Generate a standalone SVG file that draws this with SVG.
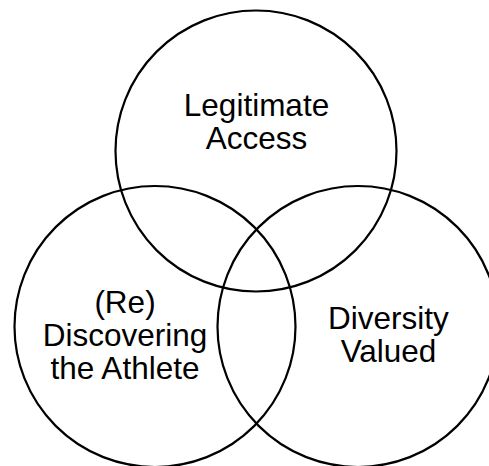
<svg xmlns="http://www.w3.org/2000/svg" width="489" height="466" viewBox="0 0 489 466">
  <style>
    .c { fill: none; stroke: #000; stroke-width: 2.2; }
    .t { font-family: "Liberation Sans", Arial, sans-serif; font-size: 31.5px; fill: #000; text-anchor: middle; }
  </style>
  <rect width="489" height="466" fill="#fff"/>
  <g id="legitimate-access">
    <circle class="c" cx="256" cy="151" r="140.5"/>
    <text class="t" x="256.5" y="116">Legitimate</text>
    <text class="t" x="256.5" y="148.5">Access</text>
  </g>
  <g id="rediscovering-athlete">
    <circle class="c" cx="155" cy="326.5" r="140.5"/>
    <text class="t" x="125" y="313">(Re)</text>
    <text class="t" x="125" y="346">Discovering</text>
    <text class="t" x="125" y="379">the Athlete</text>
  </g>
  <g id="diversity-valued">
    <circle class="c" cx="358" cy="326.5" r="140.5"/>
    <text class="t" x="388.5" y="328.5">Diversity</text>
    <text class="t" x="388.5" y="362">Valued</text>
  </g>
  <g id="connectors"></g>
</svg>
